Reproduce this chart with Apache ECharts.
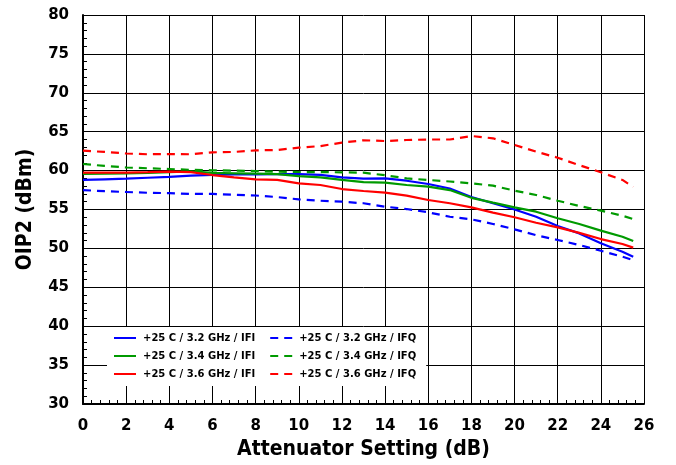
<!DOCTYPE html>
<html>
<head>
<meta charset="utf-8">
<script src="https://cdn.jsdelivr.net/npm/echarts@6/dist/echarts.min.js"></script>
<style>
html,body{margin:0;padding:0;background:#fff;}
#chart{width:676px;height:465px;}
</style>
</head>
<body>
<div id="chart"></div>
<script>
var attenuation = [0,1,2,3,4,5,6,7,8,9,10,11,12,13,14,15,16,17,18,19,20,21,22,23,24,25,25.5];
var xTicks = [0,2,4,6,8,10,12,14,16,18,20,22,24,26];
var yTicks = [30,35,40,45,50,55,60,65,70,75,80];

var ifi32 = [58.8,58.88,58.96,59.08,59.2,59.35,59.45,59.5,59.5,59.55,59.55,59.45,59.14,58.96,59.0,58.7,58.28,57.7,56.6,55.8,55.0,54.07,52.88,51.93,50.65,49.58,48.93];
var ifq32 = [57.5,57.35,57.25,57.15,57.1,57.0,57.0,56.9,56.8,56.6,56.3,56.13,56.0,55.8,55.36,55.06,54.64,54.07,53.74,53.14,52.45,51.7,51.08,50.44,49.7,48.93,48.5];
var ifi34 = [59.56,59.6,59.65,59.72,59.8,59.9,59.7,59.65,59.6,59.55,59.3,59.14,58.8,58.53,58.45,58.15,57.94,57.5,56.5,55.88,55.28,54.72,53.87,53.14,52.28,51.5,50.95];
var ifq34 = [60.85,60.6,60.4,60.3,60.2,60.1,60.04,60.0,59.95,59.86,59.82,59.8,59.78,59.73,59.4,59.0,58.8,58.6,58.36,58.06,57.42,56.86,56.13,55.45,54.85,54.2,53.78];
var ifi36 = [59.73,59.75,59.75,59.8,59.86,59.8,59.43,59.14,58.88,58.8,58.36,58.15,57.63,57.38,57.16,56.78,56.22,55.8,55.28,54.6,54.0,53.3,52.7,52.0,51.2,50.57,50.1];
var ifq36 = [62.56,62.4,62.2,62.1,62.13,62.1,62.35,62.4,62.6,62.65,62.95,63.15,63.6,63.9,63.8,63.93,64.0,64.0,64.45,64.15,63.3,62.43,61.66,60.7,59.78,58.8,57.9];

var names = ['+25 C / 3.2 GHz / IFI','+25 C / 3.2 GHz / IFQ','+25 C / 3.4 GHz / IFI','+25 C / 3.4 GHz / IFQ','+25 C / 3.6 GHz / IFI','+25 C / 3.6 GHz / IFQ'];
var colors = ['#0000ff','#0000ff','#009a00','#009a00','#ff0000','#ff0000'];
var values = [ifi32, ifq32, ifi34, ifq34, ifi36, ifq36];
var dashed = [false,true,false,true,false,true];

function pairs(ys){ return attenuation.map(function(x,i){ return [x, ys[i]]; }); }

var series = values.map(function(ys, i){
  return {
    name: names[i], type: 'line', data: pairs(ys), showSymbol: false, symbol: 'none',
    smooth: false, z: 3,
    lineStyle: { color: colors[i], width: 2.2, type: dashed[i] ? [8,6] : 'solid' },
    itemStyle: { color: colors[i] }
  };
});

var chart = echarts.init(document.getElementById('chart'), null, {renderer:'canvas'});
var lab = { fontFamily: 'DejaVu Sans', fontWeight: 'bold', fontSize: 15, color: '#000' };
chart.setOption({
  animation: false,
  backgroundColor: '#fff',
  grid: { left: 83, right: 32, top: 15, bottom: 61, containLabel: false },
  legend: {
    data: names, left: 107, top: 327, width: 320,
    orient: 'horizontal', itemWidth: 22, itemHeight: 12, itemGap: 6,
    padding: [5, 2, 6, 6], backgroundColor: '#fff',
    itemStyle: { opacity: 0 },
    textStyle: { fontFamily: 'DejaVu Sans', fontWeight: 'bold', fontSize: 10, color: '#000', lineHeight: 12, padding: [0, 8, 0, 2] }
  },
  xAxis: {
    type: 'value', min: 0, max: 26, interval: 2,
    name: 'Attenuator Setting (dB)', nameLocation: 'middle', nameGap: 35,
    nameTextStyle: { fontFamily: 'DejaVu Sans Condensed, DejaVu Sans', fontWeight: 'bold', fontSize: 21, color: '#000' },
    axisLine: { show: true, lineStyle: { color: '#000', width: 2 } },
    axisTick: { show: true, inside: true, length: 6, lineStyle: { color: '#000' } },
    minorTick: { show: true, splitNumber: 5, length: 4, lineStyle: { color: '#000' } },
    axisLabel: Object.assign({ margin: 15, formatter: function(v){ return xTicks.indexOf(v) >= 0 ? String(v) : ''; } }, lab),
    splitLine: { show: true, lineStyle: { color: '#000', width: 1 } }
  },
  yAxis: {
    type: 'value', min: 30, max: 80, interval: 5,
    name: 'OIP2 (dBm)', nameLocation: 'middle', nameGap: 47, nameRotate: 90,
    nameTextStyle: { fontFamily: 'DejaVu Sans Condensed, DejaVu Sans', fontWeight: 'bold', fontSize: 21, color: '#000' },
    axisLine: { show: true, lineStyle: { color: '#000', width: 2 } },
    axisTick: { show: true, inside: true, length: 6, lineStyle: { color: '#000' } },
    minorTick: { show: true, splitNumber: 5, length: 4, lineStyle: { color: '#000' } },
    axisLabel: Object.assign({ margin: 14, formatter: function(v){ return yTicks.indexOf(v) >= 0 ? String(v) : ''; } }, lab),
    splitLine: { show: true, lineStyle: { color: '#000', width: 1 } }
  },
  series: series
});
</script>
</body>
</html>
